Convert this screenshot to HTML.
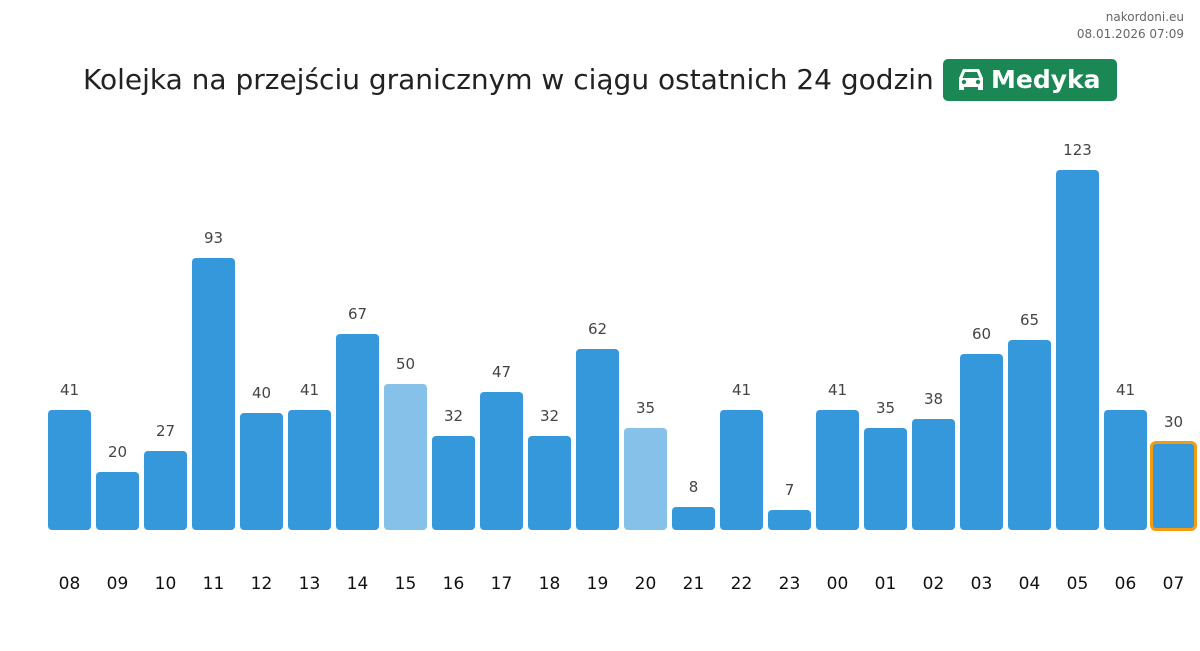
<!DOCTYPE html>
<html><head><meta charset="utf-8"><style>
body{margin:0;width:1200px;height:651px;background:#fff;position:relative;font-family:"DejaVu Sans","Liberation Sans",sans-serif;overflow:hidden}
.b{position:absolute;width:43px;bottom:121px;background:#3498db;border-radius:4px}
.l{background:#85c1e9}
.v{position:absolute;width:43px;text-align:center;font-size:15px;color:#444;line-height:18px}
.h{position:absolute;width:43px;text-align:center;font-size:17px;color:#111;top:574px;line-height:20px}
</style></head><body>
<div style="position:absolute;right:16px;top:9px;text-align:right;font-size:12px;color:#666;line-height:17px">nakordoni.eu<br>08.01.2026 07:09</div>
<div style="position:absolute;left:83px;top:62px;font-size:28px;color:#222;line-height:36px">Kolejka na przejściu granicznym w ciągu ostatnich 24 godzin</div>
<div style="position:absolute;left:943px;top:59px;width:174px;height:42px;background:#1a8754;border-radius:5px;color:#fff;font-weight:bold;font-size:25px;line-height:42px">
<svg style="position:absolute;left:14px;top:8px" width="28" height="26" viewBox="0 0 28 26"><path d="M6 2h16l4 9v12h-5v-3H7v3H2V11z" fill="#fff"/><path d="M8 5h12l2.5 6H5.5z" fill="#1a8754"/><circle cx="7" cy="15" r="2.2" fill="#1a8754"/><circle cx="21" cy="15" r="2.2" fill="#1a8754"/></svg>
<span style="position:absolute;left:48px">Medyka</span></div>

<div class="b" style="left:48px;height:120px"></div><div class="v" style="left:48px;top:381px">41</div><div class="h" style="left:48px">08</div>
<div class="b" style="left:96px;height:58px"></div><div class="v" style="left:96px;top:443px">20</div><div class="h" style="left:96px">09</div>
<div class="b" style="left:144px;height:79px"></div><div class="v" style="left:144px;top:422px">27</div><div class="h" style="left:144px">10</div>
<div class="b" style="left:192px;height:272px"></div><div class="v" style="left:192px;top:229px">93</div><div class="h" style="left:192px">11</div>
<div class="b" style="left:240px;height:117px"></div><div class="v" style="left:240px;top:384px">40</div><div class="h" style="left:240px">12</div>
<div class="b" style="left:288px;height:120px"></div><div class="v" style="left:288px;top:381px">41</div><div class="h" style="left:288px">13</div>
<div class="b" style="left:336px;height:196px"></div><div class="v" style="left:336px;top:305px">67</div><div class="h" style="left:336px">14</div>
<div class="b l" style="left:384px;height:146px"></div><div class="v" style="left:384px;top:355px">50</div><div class="h" style="left:384px">15</div>
<div class="b" style="left:432px;height:94px"></div><div class="v" style="left:432px;top:407px">32</div><div class="h" style="left:432px">16</div>
<div class="b" style="left:480px;height:138px"></div><div class="v" style="left:480px;top:363px">47</div><div class="h" style="left:480px">17</div>
<div class="b" style="left:528px;height:94px"></div><div class="v" style="left:528px;top:407px">32</div><div class="h" style="left:528px">18</div>
<div class="b" style="left:576px;height:181px"></div><div class="v" style="left:576px;top:320px">62</div><div class="h" style="left:576px">19</div>
<div class="b l" style="left:624px;height:102px"></div><div class="v" style="left:624px;top:399px">35</div><div class="h" style="left:624px">20</div>
<div class="b" style="left:672px;height:23px"></div><div class="v" style="left:672px;top:478px">8</div><div class="h" style="left:672px">21</div>
<div class="b" style="left:720px;height:120px"></div><div class="v" style="left:720px;top:381px">41</div><div class="h" style="left:720px">22</div>
<div class="b" style="left:768px;height:20px"></div><div class="v" style="left:768px;top:481px">7</div><div class="h" style="left:768px">23</div>
<div class="b" style="left:816px;height:120px"></div><div class="v" style="left:816px;top:381px">41</div><div class="h" style="left:816px">00</div>
<div class="b" style="left:864px;height:102px"></div><div class="v" style="left:864px;top:399px">35</div><div class="h" style="left:864px">01</div>
<div class="b" style="left:912px;height:111px"></div><div class="v" style="left:912px;top:390px">38</div><div class="h" style="left:912px">02</div>
<div class="b" style="left:960px;height:176px"></div><div class="v" style="left:960px;top:325px">60</div><div class="h" style="left:960px">03</div>
<div class="b" style="left:1008px;height:190px"></div><div class="v" style="left:1008px;top:311px">65</div><div class="h" style="left:1008px">04</div>
<div class="b" style="left:1056px;height:360px"></div><div class="v" style="left:1056px;top:141px">123</div><div class="h" style="left:1056px">05</div>
<div class="b" style="left:1104px;height:120px"></div><div class="v" style="left:1104px;top:381px">41</div><div class="h" style="left:1104px">06</div>
<div class="b" style="left:1150px;width:41px;height:84px;bottom:120px;border:3px solid #f39c12;border-radius:6px"></div><div class="v" style="left:1152px;top:413px">30</div><div class="h" style="left:1152px">07</div>
</body></html>
